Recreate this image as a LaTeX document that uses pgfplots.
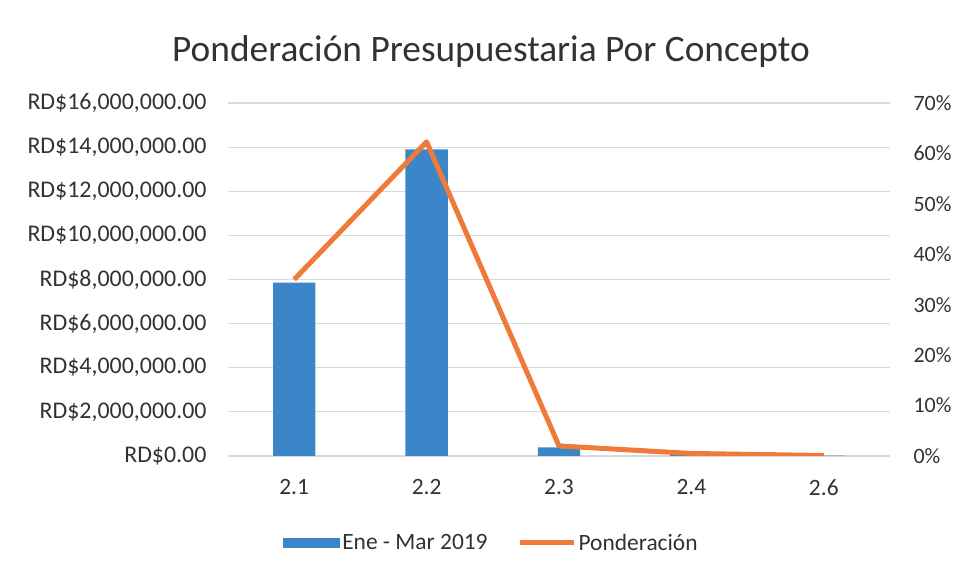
\documentclass[border=0pt]{standalone}
\usepackage{pgfplots}
\pgfplotsset{compat=1.18}
\usepackage{fontspec}
\setmainfont{Carlito}
\definecolor{barblue}{RGB}{58,134,200}
\definecolor{lineorange}{RGB}{240,122,58}
\definecolor{gridgray}{RGB}{217,217,217}
\definecolor{txt}{RGB}{50,50,50}
\begin{document}
\begin{tikzpicture}
\path[use as bounding box] (0,0) rectangle (957bp,577bp);
\begin{axis}[
  at={(228bp,121bp)}, anchor=south west,
  scale only axis, width=662bp, height=353bp,
  xmin=-0.5, xmax=4.5, ymin=0, ymax=16000000,
  axis line style={draw=none},
  tick style={draw=none},
  ymajorgrids, grid style={gridgray, line width=1.2bp},
  ytick={0,2000000,4000000,6000000,8000000,10000000,12000000,14000000,16000000},
  yticklabels={RD\$0.00,RD\$2{,}000{,}000.00,RD\$4{,}000{,}000.00,RD\$6{,}000{,}000.00,RD\$8{,}000{,}000.00,RD\$10{,}000{,}000.00,RD\$12{,}000{,}000.00,RD\$14{,}000{,}000.00,RD\$16{,}000{,}000.00},
  xtick={0,1,2,3,4}, xticklabels={2.1,2.2,2.3,2.4,2.6},
  yticklabel style={font=\fontsize{24}{28}\selectfont, text=txt, xshift=-18bp},
  xticklabel style={font=\fontsize{23.5}{28}\selectfont, text=txt, yshift=-20bp},
  scaled y ticks=false,
  legend style={at={(0.398,-0.246)}, anchor=center, draw=none, fill=none,
    font=\fontsize{23.5}{28}\selectfont, text=txt, legend columns=2,
    /tikz/every even column/.append style={column sep=28bp}},
  legend cell align=left,
]
\addplot[ybar, bar width=0.32, fill=barblue, draw=none,
  area legend,
  legend image code/.code={\fill[barblue] (0bp,-5bp) rectangle (57bp,5bp);}]
  coordinates {(0,7860000) (1,13900000) (2,390000) (3,100000) (4,20000)};
\addlegendentry{Ene - Mar 2019}
\addlegendimage{legend image code/.code={\draw[lineorange, line width=5bp] (0bp,0bp) -- (54bp,0bp);}}
\addlegendentry{Ponderación}
\end{axis}
\begin{axis}[
  at={(228bp,121bp)}, anchor=south west,
  scale only axis, width=662bp, height=353bp,
  xmin=-0.5, xmax=4.5, ymin=0, ymax=0.70,
  axis y line*=right, axis x line=none,
  axis line style={draw=none},
  tick style={draw=none},
  ytick={0,0.1,0.2,0.3,0.4,0.5,0.6,0.7},
  yticklabels={0\%,10\%,20\%,30\%,40\%,50\%,60\%,70\%},
  yticklabel style={font=\fontsize{22}{26}\selectfont, text=txt, xshift=20bp},
]
\addplot[lineorange, line width=5bp, line join=round, mark=none]
  coordinates {(0,0.350) (1,0.623) (2,0.020) (3,0.005) (4,0.001)};
\end{axis}
\node[text=txt, font=\fontsize{37.5}{44}\selectfont] at (491bp,525bp) {Ponderación Presupuestaria Por Concepto};
\end{tikzpicture}
\end{document}
